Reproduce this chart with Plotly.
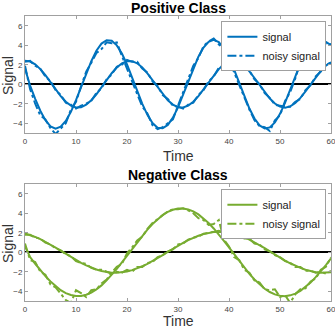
import plotly.graph_objects as go

time = list(range(61))

pos_signal_a = [1.6, -0.14, -1.50, -2.72, -3.69, -4.32, -4.55, -4.36, -3.76, -2.83, -1.63,
                -0.28, 1.10, 2.36, 3.44, 4.17, 4.52, 4.46, 3.99, 3.15, 2.03,
                0.69, -0.69, -2.01, -3.14, -3.98, -4.46, -4.52, -4.17, -3.43, -2.38,
                -1.10, 0.28, 1.63, 2.83, 3.76, 4.36, 4.55, 4.32, 3.69, 2.72,
                1.50, 0.14, -1.23, -2.49, -3.52, -4.22, -4.54, -4.43, -3.92, -3.04,
                -1.89, -0.56, 0.83, 2.12, 3.25, 4.05, 4.49, 4.55, 4.35, 4.0]
pos_noisy_a = [1.9, -0.5, -2.0, -3.2, -3.6, -4.5, -5.1, -4.5, -4.0, -2.6, -1.8,
               -0.2, 1.3, 2.2, 3.2, 3.6, 4.3, 4.2, 4.3, 2.9, 1.6,
               0.5, -0.9, -2.3, -3.0, -4.2, -4.6, -4.4, -4.0, -3.6, -2.2,
               -0.9, 0.5, 1.9, 2.7, 3.9, 4.4, 4.7, 4.1, 3.5, 2.5,
               1.2, -0.2, -1.5, -2.6, -3.7, -4.3, -4.4, -4.8, -3.7, -3.2,
               -1.7, -0.8, 0.6, 2.3, 3.1, 4.2, 4.4, 4.3, 4.2, 4.1]
pos_signal_b = [2.40, 2.33, 2.04, 1.55, 0.93, 0.20, -0.53, -1.22, -1.79, -2.19, -2.39,
                -2.35, -2.09, -1.64, -1.03, -0.31, 0.43, 1.13, 1.71, 2.14, 2.37,
                2.37, 2.15, 1.72, 1.12, 0.43, -0.31, -1.03, -1.64, -2.09, -2.35,
                -2.39, -2.19, -1.79, -1.22, -0.53, 0.20, 0.92, 1.55, 2.04, 2.33,
                2.40, 2.24, 1.86, 1.32, 0.64, -0.09, -0.82, -1.47, -1.98, -2.30,
                -2.40, -2.27, -1.93, -1.40, -0.74, -0.02, 0.72, 1.37, 1.91, 2.26]
pos_noisy_b = [2.3, 2.4, 1.9, 1.6, 0.8, 0.3, -0.6, -1.1, -1.9, -2.1, -2.5,
               -2.2, -2.0, -1.7, -0.9, -0.4, 0.5, 1.0, 1.8, 2.0, 2.5,
               2.3, 2.3, 1.6, 1.2, 0.3, -0.2, -1.1, -1.5, -2.2, -2.3,
               -2.5, -2.1, -1.9, -1.1, -0.6, 0.3, 0.8, 1.7, 1.9, 2.4,
               2.3, 2.3, 1.7, 1.4, 0.5, 0.0, -0.9, -1.4, -2.1, -2.2,
               -2.3, -2.3, -1.8, -1.5, -0.6, -0.1, 0.8, 1.3, 2.0, 2.2]

neg_signal_c = [0.6, -0.49, -1.18, -1.83, -2.45, -3.00, -3.49, -3.89, -4.19, -4.39, -4.49,
                -4.48, -4.36, -4.14, -3.81, -3.40, -2.89, -2.32, -1.71, -1.04, -0.35,
                0.35, 1.04, 1.71, 2.33, 2.89, 3.40, 3.82, 4.14, 4.36, 4.48,
                4.49, 4.39, 4.19, 3.88, 3.48, 3.00, 2.44, 1.83, 1.17, 0.49,
                -0.21, -0.90, -1.57, -2.21, -2.79, -3.30, -3.74, -4.08, -4.32, -4.46,
                -4.50, -4.42, -4.24, -3.96, -3.58, -3.11, -2.56, -1.96, -1.31, -0.63]
neg_noisy_c = [0.9, -0.8, -1.0, -2.0, -2.3, -3.3, -3.6, -4.2, -4.9, -5.2, -3.9,
               -4.2, -4.6, -3.9, -3.8, -3.2, -2.8, -2.1, -1.5, -1.2, -0.1,
               0.5, 1.2, 1.6, 2.4, 3.0, 3.4, 3.8, 4.2, 4.4, 4.4,
               4.5, 4.3, 4.0, 3.5, 3.3, 2.8, 2.9, 3.3, 1.3, 0.6,
               -0.5, -0.8, -1.8, -2.1, -2.9, -3.1, -3.8, -3.9, -3.8, -4.6,
               -4.4, -5.2, -4.3, -3.8, -3.7, -3.0, -2.7, -1.8, -1.5, -0.5]
neg_signal_d = [1.92, 1.77, 1.57, 1.34, 1.08, 0.79, 0.48, 0.16, -0.16, -0.48, -0.79,
                -1.08, -1.34, -1.57, -1.77, -1.92, -2.03, -2.09, -2.10, -2.06, -1.97,
                -1.83, -1.66, -1.44, -1.19, -0.91, -0.61, -0.29, 0.03, 0.36, 0.67,
                0.97, 1.24, 1.48, 1.69, 1.86, 1.99, 2.07, 2.10, 2.08, 2.01,
                1.89, 1.73, 1.53, 1.29, 1.02, 0.73, 0.42, 0.10, -0.23, -0.54,
                -0.85, -1.13, -1.39, -1.61, -1.80, -1.95, -2.05, -2.09, -2.09, -2.04]
neg_noisy_d = [1.8, 1.8, 1.5, 1.4, 1.0, 0.8, 0.4, 0.2, -0.2, -0.4, -0.9,
               -1.1, -1.2, -1.6, -1.8, -1.8, -2.0, -2.2, -2.0, -2.1, -1.8,
               -2.0, -1.5, -1.5, -1.1, -1.0, -0.5, -0.3, 0.1, 0.3, 0.8,
               0.9, 1.3, 1.5, 1.6, 1.9, 2.0, 2.1, 2.2, 2.0, 2.1,
               1.8, 1.8, 1.4, 1.4, 0.9, 0.8, 0.3, 0.1, -0.3, -0.5,
               -0.9, -1.1, -1.5, -1.5, -1.9, -1.9, -2.1, -2.0, -2.2, -1.9]

x_ticks = [0, 10, 20, 30, 40, 50, 60]
y_ticks = [-4, -2, 0, 2, 4, 6]

BLUE = "#0072BD"
GREEN = "#77AC30"
FONT = "Liberation Sans, Arial, sans-serif"

fig = go.Figure()

def add_pair(sig, noisy, color, xa, ya, legend):
    fig.add_trace(go.Scatter(x=time, y=sig, mode="lines", name="signal",
                             line=dict(color=color, width=2), xaxis=xa, yaxis=ya,
                             legend=legend, showlegend=True))
    fig.add_trace(go.Scatter(x=time, y=noisy, mode="lines", name="noisy signal",
                             line=dict(color=color, width=2, dash="dashdot"),
                             xaxis=xa, yaxis=ya, legend=legend, showlegend=True))

def add_single(sig, noisy, color, xa, ya, legend):
    fig.add_trace(go.Scatter(x=time, y=sig, mode="lines", showlegend=False,
                             line=dict(color=color, width=2), xaxis=xa, yaxis=ya, legend=legend))
    fig.add_trace(go.Scatter(x=time, y=noisy, mode="lines", showlegend=False,
                             line=dict(color=color, width=2, dash="dashdot"),
                             xaxis=xa, yaxis=ya, legend=legend))

add_pair(pos_signal_a, pos_noisy_a, BLUE, "x", "y", "legend")
add_single(pos_signal_b, pos_noisy_b, BLUE, "x", "y", "legend")
add_pair(neg_signal_c, neg_noisy_c, GREEN, "x2", "y2", "legend2")
add_single(neg_signal_d, neg_noisy_d, GREEN, "x2", "y2", "legend2")

axis_common = dict(showline=True, linecolor="#a0a0a0", linewidth=1, mirror="ticks",
                   ticks="inside", ticklen=3, tickcolor="#a0a0a0", showgrid=False,
                   automargin=False, ticklabeloverflow="allow",
                   tickfont=dict(size=8, color="#444444", family=FONT))

top_dom = [0.5895, 1.0]
bot_dom = [0.0, 0.4105]

legend_common = dict(xanchor="right", yanchor="top", bgcolor="white",
                     bordercolor="#a0a0a0", borderwidth=1,
                     font=dict(size=11, color="#222222", family=FONT),
                     tracegroupgap=0, itemwidth=30)

fig.update_layout(
    width=335, height=329,
    margin=dict(l=25, r=4, t=16, b=28),
    plot_bgcolor="white", paper_bgcolor="white",
    font=dict(family=FONT),
    xaxis=dict(domain=[0, 1], range=[0, 60], tickvals=x_ticks, anchor="y", **axis_common),
    yaxis=dict(domain=top_dom, range=[-5, 7], tickvals=y_ticks, anchor="x",
               zeroline=True, zerolinecolor="black", zerolinewidth=2, **axis_common),
    xaxis2=dict(domain=[0, 1], range=[0, 60], tickvals=x_ticks, anchor="y2", **axis_common),
    yaxis2=dict(domain=bot_dom, range=[-5, 7], tickvals=y_ticks, anchor="x2",
                zeroline=True, zerolinecolor="black", zerolinewidth=2, **axis_common),
    legend=dict(x=0.985, y=0.982, **legend_common),
    legend2=dict(x=0.985, y=0.392, **legend_common),
    annotations=[
        dict(text="<b>Positive Class</b>", x=0.5, y=1.028, xref="paper", yref="paper",
             showarrow=False, font=dict(size=14, color="black"), yanchor="middle"),
        dict(text="<b>Negative Class</b>", x=0.5, y=0.442, xref="paper", yref="paper",
             showarrow=False, font=dict(size=14, color="black"), yanchor="middle"),
        dict(text="Time", x=0.5, y=0.509, xref="paper", yref="paper",
             showarrow=False, font=dict(size=14, color="#333333"), yanchor="middle"),
        dict(text="Time", x=0.5, y=-0.07, xref="paper", yref="paper",
             showarrow=False, font=dict(size=14, color="#333333"), yanchor="middle"),
        dict(text="Signal", x=-0.0556, y=0.793, xref="paper", yref="paper", textangle=-90,
             showarrow=False, font=dict(size=14, color="#333333"), xanchor="center", yanchor="middle"),
        dict(text="Signal", x=-0.0556, y=0.2035, xref="paper", yref="paper", textangle=-90,
             showarrow=False, font=dict(size=14, color="#333333"), xanchor="center", yanchor="middle"),
    ],
)

fig.write_html("out.html", config={"displayModeBar": False},
               post_script="document.body.style.margin='0';document.body.style.padding='0';")
